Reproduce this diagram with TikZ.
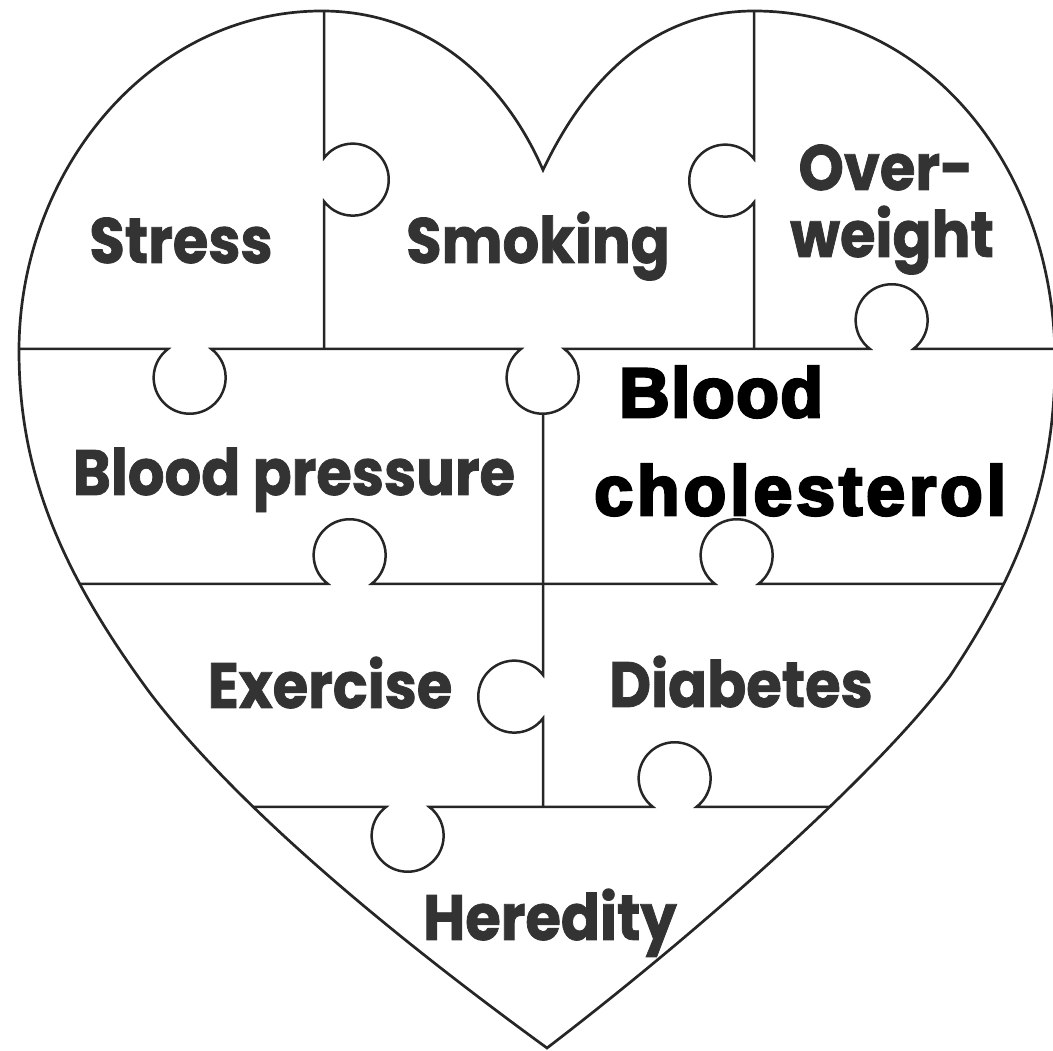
\documentclass[tikz,border=0pt]{standalone}
\usepackage{fontspec}
\newfontfamily\puzzlefont[FakeStretch=0.9, BoldFeatures={FakeBold=1.2}]{Poppins}
\newfontfamily\stickerfont[FakeBold=4]{Liberation Sans Bold}
\usepackage{tikz}
\usetikzlibrary{calc}

% heart outline, used for clipping and for drawing
\newcommand{\heartline}{(543,881)
  .. controls (500,980) and (420,1040) .. (322,1040)
  .. controls (150,1040) and (19,880) .. (19,700)
  .. controls (19,580) and (60,480) .. (150,358)
  .. controls (240,240) and (400,110) .. (547,3)
  .. controls (700,120) and (880,280) .. (950,375)
  .. controls (1020,480) and (1055,570) .. (1055,690)
  .. controls (1055,880) and (930,1040) .. (754,1040)
  .. controls (660,1040) and (590,980) .. (543,881) -- cycle}

\begin{document}
\begin{tikzpicture}[
  x=1pt, y=1pt,
  outline/.style={draw=black!85, line width=2.7pt, line join=miter},
  cut/.style={draw=black!85, line width=2.5pt},
  word/.style={font=\puzzlefont\bfseries\fontsize{64}{64}\selectfont,
               text=black!80, anchor=base, inner sep=0pt},
  sticker/.style={font=\stickerfont\fontsize{70}{70}\selectfont,
                  text=black, anchor=base west, inner sep=0pt},
]
\useasboundingbox (0,0) rectangle (1053,1051);

% ============ PUZZLE CUTS ============
\begin{scope}
\clip \heartline;

% Stress | Smoking
\draw[cut] (324,1060) -- (324,893)
  arc[start angle=143, end angle=-143, radius=36] -- (324,702);

% Smoking | Over-weight
\draw[cut] (754,1060) -- (754,892)
  arc[start angle=37, end angle=323, radius=36] -- (754,702);

% top row | middle row
\draw[cut] (0,702) -- (168,702)
  arc[start angle=127, end angle=413, radius=36] -- (521,702)
  arc[start angle=127, end angle=413, radius=36] -- (870,702)
  arc[start angle=233, end angle=-53, radius=36] -- (1060,702);

% left | right, middle and lower rows
\draw[cut] (543,637) -- (543,376)
  arc[start angle=37, end angle=323, radius=36] -- (543,244);

% middle row | lower row
\draw[cut] (0,467) -- (328,467)
  arc[start angle=233, end angle=-53, radius=36] -- (715,467)
  arc[start angle=233, end angle=-53, radius=36] -- (1060,467);

% lower row | Heredity
\draw[cut] (150,244) -- (386,244)
  arc[start angle=127, end angle=413, radius=36] -- (653,244)
  arc[start angle=233, end angle=-53, radius=36] -- (950,244);
\end{scope}

% ============ HEART OUTLINE ============
\draw[outline] \heartline;

% ============ LABELS ============

\node[word] (stress)   at (181,788) {Stress};
\node[word] (smoking)  at (538,788) {Smoking};
\node[word] (over)     at (886,861) {Over-};
\node[word] (weight)   at (892,794) {weight};
\node[word] (bpress)   at (294,556) {Blood pressure};
\node[word] (exercise) at (330,343) {Exercise};
\node[word] (diabetes) at (741,344) {Diabetes};
\node[word] (heredity) at (550,111) {Heredity};

\node[sticker] (blood) at (619,634) {\addfontfeature{LetterSpace=2}Blood};
\node[sticker] (chol)  at (594,536) {\addfontfeature{LetterSpace=5.5}cholesterol};

\end{tikzpicture}
\end{document}
